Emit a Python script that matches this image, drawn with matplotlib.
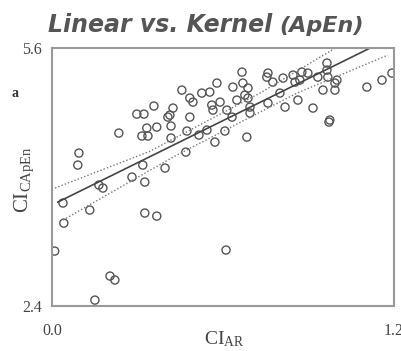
import matplotlib
matplotlib.use("Agg")
import matplotlib.pyplot as plt

serif = "Liberation Serif"
plt.rcParams["mathtext.fontset"] = "custom"
plt.rcParams["mathtext.rm"] = serif
plt.rcParams["mathtext.it"] = serif + ":italic"
plt.rcParams["mathtext.bf"] = serif + ":bold"

# scatter points: CI_AR (x) vs CI_CApEn (y)
ci_ar = [0.01, 0.151, 0.204, 0.221, 0.611, 0.042, 0.095, 0.091, 0.039, 0.133,
         0.165, 0.179, 0.281, 0.326, 0.319, 0.397, 0.326, 0.368, 0.235, 0.333,
         0.337, 0.316, 0.368, 0.418, 0.418, 0.474, 0.470, 0.516, 0.544, 0.572,
         0.607, 0.684, 0.972, 0.298, 0.323, 0.358, 0.407, 0.456, 0.579, 0.635,
         0.667, 0.670, 0.688, 0.677, 0.688, 0.649, 0.758, 0.775, 0.758, 0.425,
         0.414, 0.484, 0.495, 0.526, 0.554, 0.561, 0.565, 0.590, 0.614, 0.632,
         0.695, 0.484, 0.754, 0.811, 0.846, 0.877, 0.898, 0.870, 0.818, 0.863,
         0.916, 0.800, 0.965, 0.968, 1.000, 0.951, 0.993, 1.105, 1.158, 1.193,
         0.975, 0.695, 0.965, 0.853, 0.993, 0.933]
ci_capen = [3.082, 2.474, 2.772, 2.723, 3.095, 3.429, 4.298, 4.149, 3.678, 3.591,
            3.901, 3.864, 4.000, 3.938, 4.149, 4.112, 3.554, 3.516, 4.546, 4.608,
            4.509, 4.509, 4.620, 4.633, 4.484, 4.571, 4.310, 4.521, 4.583, 4.434,
            4.571, 4.496, 4.682, 4.781, 4.781, 4.881, 4.744, 5.079, 5.166, 5.116,
            5.302, 5.166, 5.104, 5.017, 4.980, 4.955, 5.290, 5.178, 4.918, 4.856,
            4.769, 4.980, 4.930, 5.042, 5.054, 4.893, 4.831, 4.930, 4.831, 4.744,
            4.794, 4.744, 5.240, 5.228, 5.265, 5.302, 5.290, 5.203, 4.868, 4.955,
            4.856, 5.042, 5.414, 5.240, 5.203, 5.079, 5.079, 5.116, 5.203, 5.290,
            4.707, 4.868, 5.327, 5.178, 5.166, 5.240]

# fitted line and confidence band
fit_x = [0.021, 1.116]
fit_y = [3.69, 5.60]
upper_x = [0.011, 0.344, 0.730, 1.000]
upper_y = [3.864, 4.320, 5.042, 5.612]
lower_x = [0.039, 0.425, 0.860, 1.179]
lower_y = [3.467, 4.248, 5.042, 5.513]

fig = plt.figure(figsize=(4.02, 3.51), dpi=100)
ax = fig.add_axes([0.129, 0.128, 0.851, 0.735])

ax.scatter(ci_ar, ci_capen, s=34, facecolors="none", edgecolors="#555555", linewidths=1.0)
ax.plot(fit_x, fit_y, color="#444444", lw=1.2)
ax.plot(upper_x, upper_y, color="#777777", lw=1.0, ls=(0, (1, 1.5)))
ax.plot(lower_x, lower_y, color="#777777", lw=1.0, ls=(0, (1, 1.5)))

ax.set_xlim(0, 1.2)
ax.set_ylim(2.4, 5.6)
ax.set_xticks([0.0, 1.2], ["0.0", "1.2"], family=serif, fontsize=11.5, color="#444444")
ax.set_yticks([2.4, 5.6], ["2.4", "5.6"], family=serif, fontsize=11.5, color="#444444")
ax.tick_params(axis="both", length=0)
ax.tick_params(axis="x", pad=12)
ax.tick_params(axis="y", pad=7)
for sp in ax.spines.values():
    sp.set_color("#999999")
    sp.set_linewidth(1.5)

ax.set_xlabel(r"$\mathrm{CI}_{\mathrm{AR}}$", fontsize=14, color="#444444")
ax.xaxis.set_label_coords(0.503, -0.09)
ax.set_ylabel(r"$\mathrm{CI}_{\mathrm{CApEn}}$", fontsize=15, color="#444444")
ax.yaxis.set_label_coords(-0.045, 0.49)

fig.text(12 / 402, 1 - 97 / 351, "a", family=serif, fontweight="bold", fontsize=10, color="#333333")

fig.text(272 / 402, 1 - 32 / 351, "Linear vs. Kernel", ha="right", va="baseline",
         fontsize=17, fontweight="bold", style="italic", color="#555555")
fig.text(279 / 402, 1 - 32 / 351, "(ApEn)", ha="left", va="baseline",
         fontsize=16, fontweight="bold", style="italic", color="#555555")

fig.savefig("out.png", dpi=100)
